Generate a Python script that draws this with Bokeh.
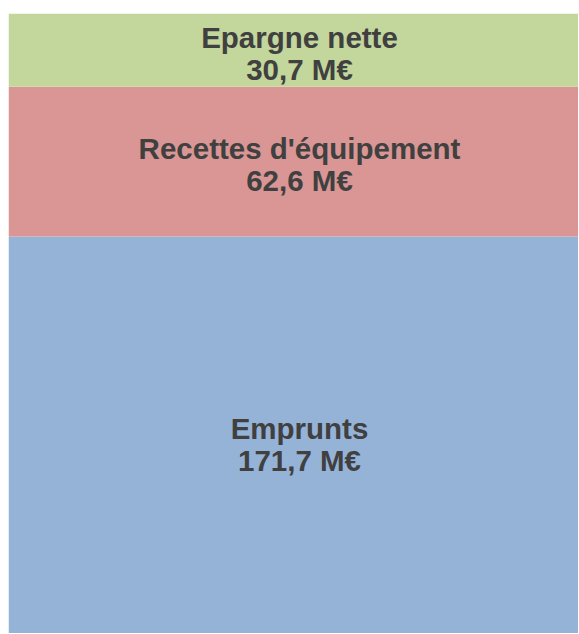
from bokeh.plotting import figure
from bokeh.models import ColumnDataSource, Range1d
from bokeh.embed import file_html
from bokeh.resources import INLINE
from bokeh.core.properties import value

categories = ["Emprunts", "Recettes d'équipement", "Epargne nette"]
amounts = [171.7, 62.6, 30.7]
labels = ["171,7 M€", "62,6 M€", "30,7 M€"]
colors = ["#95B3D7", "#D99694", "#C3D69B"]

bottoms = []
tops = []
acc = 0.0
for a in amounts:
    bottoms.append(acc)
    acc += a
    tops.append(acc)
mids = [(b + t) / 2 for b, t in zip(bottoms, tops)]

src = ColumnDataSource(dict(cat=categories, amt=labels, bottom=bottoms, top=tops,
                            mid=mids, color=colors, x=[0] * len(amounts)))

total = tops[-1]
p = figure(width=578, height=633, output_backend="svg", toolbar_location=None,
           x_range=Range1d(-0.5, 0.4794), y_range=Range1d(total - 620 / 2.39, total),
           min_border_left=8, min_border_top=13, min_border_right=0, min_border_bottom=0)
p.axis.visible = False
p.grid.visible = False
p.outline_line_color = None
p.background_fill_color = "white"

p.vbar(x="x", width=1.0, bottom="bottom", top="top", fill_color="color",
       line_color=None, source=src)

common = dict(text_align="center", text_baseline="alphabetic",
              text_font=value("Liberation Sans"), text_font_style="bold",
              text_font_size="29.5px", text_color="#404040", source=src)
p.text(x="x", y="mid", text="cat", y_offset=-13, **common)
p.text(x="x", y="mid", text="amt", y_offset=19, **common)

open("out.html", "w").write(file_html(p, INLINE))
